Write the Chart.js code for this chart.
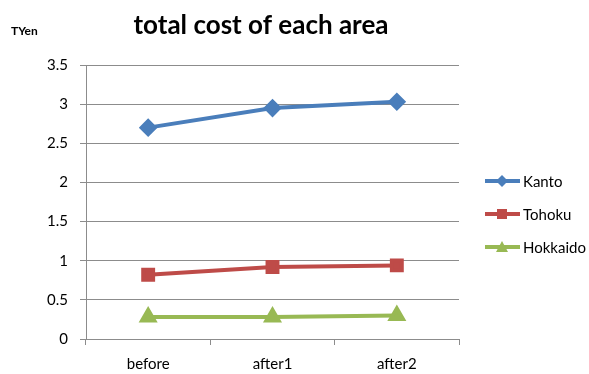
<!DOCTYPE html>
<html>
<head>
<meta charset="utf-8">
<script src="https://cdn.jsdelivr.net/npm/chart.js@4"></script>
<style>
  html, body { margin: 0; padding: 0; background: #fff; }
  #wrap { width: 589px; height: 374px; position: relative; }
</style>
</head>
<body>
<div id="wrap"><canvas id="chart"></canvas></div>
<script>
const labels = ["before", "after1", "after2"];
const kanto = [2.70, 2.95, 3.03];
const tohoku = [0.82, 0.92, 0.94];
const hokkaido = [0.28, 0.28, 0.30];

const font = "Lato, 'Open Sans', sans-serif";
const gridColor = "#8c8c8c";

// title, unit label and legend drawn by hand
const decor = {
  id: "decor",
  afterDraw(c) {
    const ctx = c.ctx;
    ctx.save();
    ctx.fillStyle = "#000";
    ctx.textBaseline = "alphabetic";
    ctx.textAlign = "center";
    ctx.font = "bold 26px " + font;
    ctx.fillText("total cost of each area", 261, 34);
    ctx.textAlign = "left";
    ctx.font = "bold 12px " + font;
    ctx.fillText("TYen", 11, 35);

    const rows = [181, 214, 247];
    c.data.datasets.forEach((ds, i) => {
      const y = rows[i];
      ctx.strokeStyle = ds.borderColor;
      ctx.lineWidth = 4;
      ctx.beginPath();
      ctx.moveTo(485, y);
      ctx.lineTo(520, y);
      ctx.stroke();
      ctx.fillStyle = ds.backgroundColor;
      ctx.beginPath();
      if (ds.pointStyle === "rectRot") {
        ctx.moveTo(502, y - 6); ctx.lineTo(508, y); ctx.lineTo(502, y + 6); ctx.lineTo(496, y);
      } else if (ds.pointStyle === "rect") {
        ctx.rect(497, y - 5, 10, 10);
      } else {
        ctx.moveTo(502, y - 6); ctx.lineTo(508, y + 5); ctx.lineTo(496, y + 5);
      }
      ctx.closePath();
      ctx.fill();
      ctx.fillStyle = "#000";
      ctx.font = "15px " + font;
      ctx.textBaseline = "middle";
      ctx.fillText(ds.label, 523, y + 1);
    });
    ctx.restore();
  }
};

new Chart(document.getElementById("chart"), {
  type: "line",
  data: {
    labels: labels,
    datasets: [
      { label: "Kanto", data: kanto, borderColor: "#4a7ebb", backgroundColor: "#4a7ebb",
        pointStyle: "rectRot", pointRadius: 6.5, borderWidth: 4 },
      { label: "Tohoku", data: tohoku, borderColor: "#be4b48", backgroundColor: "#be4b48",
        pointStyle: "rect", pointRadius: 7, borderWidth: 4 },
      { label: "Hokkaido", data: hokkaido, borderColor: "#98b954", backgroundColor: "#98b954",
        pointStyle: "triangle", pointRadius: 7, borderWidth: 4 }
    ]
  },
  options: {
    responsive: true,
    maintainAspectRatio: false,
    animation: false,
    layout: { padding: { top: 65, right: 130, bottom: 0, left: 0 } },
    plugins: { legend: { display: false }, title: { display: false }, tooltip: { enabled: false } },
    elements: { line: { tension: 0 }, point: { borderWidth: 0 } },
    scales: {
      x: {
        offset: true,
        afterFit: s => { s.height = 35; },
        grid: { drawOnChartArea: false, drawTicks: true, tickLength: 6, color: gridColor, offset: true },
        border: { color: gridColor, width: 1 },
        ticks: { color: "#000", font: { family: font, size: 15 }, padding: 10 }
      },
      y: {
        min: 0,
        max: 3.5,
        afterFit: s => { s.width = 86; },
        grid: { color: gridColor, tickLength: 6 },
        border: { color: gridColor, width: 1 },
        ticks: { stepSize: 0.5, color: "#000", font: { family: font, size: 15 }, padding: 12,
          callback: v => String(v) }
      }
    }
  },
  plugins: [decor]
});
</script>
</body>
</html>
